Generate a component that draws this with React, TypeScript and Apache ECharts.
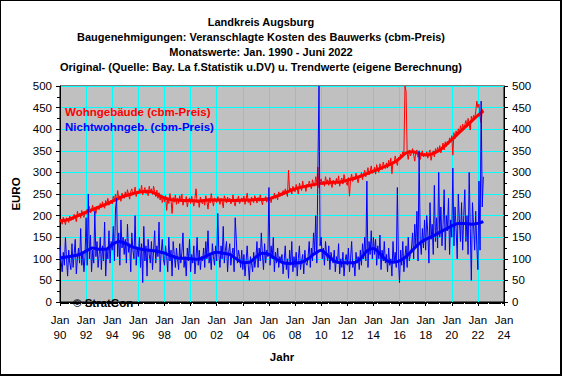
import React, { useEffect, useRef } from "react";
import * as echarts from "echarts";

const START_YEAR = 1990;
const X_MIN = 1990;
const X_MAX = 2024;

const titleLines = [
  "Landkreis Augsburg",
  "Baugenehmigungen: Veranschlagte Kosten des Bauwerks (cbm-Preis)",
  "Monatswerte: Jan. 1990 - Juni 2022",
  "Original- (Quelle: Bay. La f.Statistik u.DV) u. Trendwerte (eigene Berechnung)",
];

const seriesNames = ["Wohngebäude (cbm-Preis)", "Nichtwohngeb. (cbm-Preis)"];

// Monthly original values, Jan 1990 - Jun 2022
const wohnOriginal = [
  185,192,180,196,188,179,195,190,184,199,188,193,
  190,203,197,186,210,199,205,194,212,201,196,208,
  203,215,209,221,206,213,224,210,218,205,222,216,
  214,228,219,232,222,217,235,226,240,224,231,236,
  227,245,236,250,232,258,239,246,233,252,244,240,
  255,243,260,249,238,256,262,247,252,266,244,257,
  250,262,253,270,248,258,265,251,260,246,268,255,
  262,249,268,255,244,259,240,253,236,248,230,244,
  232,246,212,240,228,251,236,205,242,231,248,226,
  240,228,246,233,250,224,238,231,244,220,236,241,
  228,245,233,222,240,262,230,236,219,243,232,227,
  238,224,246,232,215,240,229,251,235,222,241,233,
  230,244,236,226,240,233,218,246,238,229,243,235,
  240,227,234,248,231,222,239,236,245,228,233,241,
  232,245,226,238,252,230,237,224,243,235,230,246,
  238,229,242,233,248,236,225,240,234,244,231,239,
  235,242,230,245,238,252,240,247,236,255,244,250,
  246,258,249,262,253,244,305,256,264,250,268,259,
  255,272,262,250,275,266,258,280,264,270,256,273,
  266,280,271,262,283,274,268,290,276,312,264,279,
  285,272,280,268,290,277,283,270,288,274,265,282,
  279,271,286,275,292,268,281,287,273,295,280,276,
  270,288,245,284,296,279,290,283,298,286,276,294,
  288,300,283,296,305,290,299,311,294,302,315,298,
  300,312,296,318,307,300,320,311,306,324,314,309,
  322,310,328,316,333,297,325,320,338,326,316,335,
  330,342,336,348,340,500,488,345,330,352,338,344,
  355,340,326,348,352,335,346,330,342,350,336,344,
  338,348,333,345,352,328,342,350,336,355,346,358,
  348,362,345,356,368,352,371,360,372,365,380,370,
  385,340,392,378,396,384,401,390,408,395,412,400,
  410,420,405,425,412,398,430,418,432,425,440,465,
  450,458,428,415,446,440,
];

const nichtwohnOriginal = [
  130,95,70,115,85,150,100,60,120,90,75,135,
  80,110,145,65,100,125,90,170,85,115,70,105,
  195,85,250,100,155,70,120,90,210,105,140,80,
  110,150,75,130,95,185,60,125,100,165,90,140,
  120,175,95,215,240,105,160,85,190,125,150,110,
  145,90,180,115,135,70,160,120,100,200,85,125,
  105,150,80,135,45,175,95,130,60,145,110,90,
  140,75,120,165,90,130,105,185,70,115,145,100,
  85,130,105,70,150,95,120,60,140,110,80,125,
  100,75,135,90,115,160,80,105,60,125,95,145,
  70,110,90,130,65,100,150,85,120,75,105,95,
  125,80,140,100,165,90,110,75,135,105,85,130,
  95,205,110,80,130,100,175,90,120,140,70,115,
  135,85,110,125,70,195,145,90,120,105,80,120,
  75,110,60,95,130,85,50,105,90,70,115,80,
  100,140,80,125,95,160,110,75,135,90,120,105,
  265,85,130,100,150,70,115,90,125,80,105,95,
  110,65,95,130,75,100,55,120,85,140,70,105,
  80,115,60,100,130,75,95,110,65,120,90,85,
  105,140,80,125,95,160,115,200,90,310,500,130,
  150,100,125,85,140,110,95,130,75,115,100,90,
  120,70,105,90,135,65,100,80,115,60,95,110,
  85,125,70,100,140,80,95,60,115,90,105,75,
  120,85,135,100,150,95,280,80,140,110,165,100,
  150,110,145,85,130,100,155,75,120,95,140,90,
  110,70,125,85,100,60,140,90,115,80,265,95,
  45,120,85,140,70,105,130,80,150,95,110,125,
  160,100,180,130,210,95,350,140,110,170,125,190,
  120,200,160,90,230,145,180,110,270,140,195,125,
  300,150,220,130,180,260,120,200,165,240,110,190,
  150,310,130,220,170,100,250,190,140,230,120,200,
  260,140,200,110,300,170,50,230,180,120,210,130,
  75,280,120,465,220,290,
];

// Trend values (half-yearly support points)
const trendYears = [
  1990, 1990.5, 1991, 1991.5, 1992, 1992.5, 1993, 1993.5, 1994, 1994.5,
  1995, 1995.5, 1996, 1996.5, 1997, 1997.5, 1998, 1998.5, 1999, 1999.5,
  2000, 2000.5, 2001, 2001.5, 2002, 2002.5, 2003, 2003.5, 2004, 2004.5,
  2005, 2005.5, 2006, 2006.5, 2007, 2007.5, 2008, 2008.5, 2009, 2009.5,
  2010, 2010.5, 2011, 2011.5, 2012, 2012.5, 2013, 2013.5, 2014, 2014.5,
  2015, 2015.5, 2016, 2016.5, 2017, 2017.5, 2018, 2018.5, 2019, 2019.5,
  2020, 2020.5, 2021, 2021.5, 2022, 2022.42,
];

const wohnTrend = [
  188,190,195,201,208,214,220,226,233,240,
  246,250,254,256,255,248,241,237,236,235,
  235,234,235,236,236,236,235,235,236,236,
  237,237,239,244,250,256,262,266,269,272,
  275,276,277,278,282,286,291,297,303,309,
  315,322,332,345,348,343,340,343,350,362,
  376,390,404,418,432,442,
];

const nichtwohnTrend = [
  102,104,107,110,118,125,122,122,133,140,
  136,128,124,121,119,117,113,107,102,101,
  100,99,103,111,115,113,110,100,91,92,
  104,113,110,100,92,89,90,92,100,112,
  120,108,95,91,91,91,100,118,124,112,
  96,92,95,105,120,135,145,152,160,168,
  176,182,182,180,182,186,
];

const RED = "#FF0000";
const BLUE = "#0000FF";
const FONT = "'Liberation Sans', Arial, sans-serif";

function monthly(values: number[]) {
  return values.map((v, i) => [START_YEAR + i / 12, v]);
}
function trend(values: number[]) {
  return values.map((v, i) => [trendYears[i], v]);
}

export default function App() {
  const ref = useRef<HTMLDivElement>(null);

  useEffect(() => {
    if (!ref.current) return;
    const chart = echarts.init(ref.current, null, { renderer: "svg" });

    const yAxisBase = {
      type: "value",
      min: 0,
      max: 500,
      interval: 50,
      axisLine: { show: true, lineStyle: { color: "#000", width: 1 } },
      axisTick: { show: true, length: 4, lineStyle: { color: "#000" } },
      minorTick: { show: true, splitNumber: 2, length: 3, lineStyle: { color: "#000" } },
      axisLabel: { color: "#000", fontSize: 11.5, fontFamily: FONT, margin: 8 },
    };

    const titleY = [22, 37, 52, 67];

    chart.setOption({
      animation: false,
      backgroundColor: "#FFFFFF",
      grid: {
        left: 60,
        right: 59,
        top: 86,
        bottom: 75,
        show: true,
        backgroundColor: "#C0C0C0",
        borderColor: "#000",
        borderWidth: 1,
      },
      xAxis: {
        type: "value",
        min: X_MIN,
        max: X_MAX,
        interval: 2,
        name: "Jahr",
        nameLocation: "middle",
        nameGap: 49,
        nameTextStyle: { color: "#000", fontWeight: "bold", fontSize: 11.5, fontFamily: FONT },
        axisLine: { show: true, lineStyle: { color: "#000", width: 1 } },
        axisTick: { show: true, length: 4, lineStyle: { color: "#000" } },
        minorTick: { show: true, splitNumber: 24, length: 2, lineStyle: { color: "#000" } },
        splitLine: { show: true, lineStyle: { color: "#00FFFF", width: 1 } },
        axisLabel: {
          color: "#000",
          fontSize: 11.5,
          fontFamily: FONT,
          lineHeight: 15,
          margin: 10,
          formatter: (v: number) => "Jan\n" + String(v).slice(2),
        },
      },
      yAxis: [
        {
          ...yAxisBase,
          position: "left",
          name: "EURO",
          nameLocation: "middle",
          nameGap: 33,
          nameTextStyle: { color: "#000", fontWeight: "bold", fontSize: 11.5, fontFamily: FONT },
          splitLine: { show: true, lineStyle: { color: "#00FFFF", width: 1 } },
        },
        {
          ...yAxisBase,
          position: "right",
          splitLine: { show: false },
        },
      ],
      series: [
        {
          name: seriesNames[0],
          type: "line",
          data: monthly(wohnOriginal),
          showSymbol: false,
          lineStyle: { color: RED, width: 1 },
          itemStyle: { color: RED },
          z: 2,
        },
        {
          name: seriesNames[0] + " Trend",
          type: "line",
          data: trend(wohnTrend),
          showSymbol: false,
          smooth: 0.3,
          lineStyle: { color: RED, width: 3 },
          itemStyle: { color: RED },
          z: 3,
        },
        {
          name: seriesNames[1],
          type: "line",
          data: monthly(nichtwohnOriginal),
          showSymbol: false,
          lineStyle: { color: BLUE, width: 1 },
          itemStyle: { color: BLUE },
          z: 4,
        },
        {
          name: seriesNames[1] + " Trend",
          type: "line",
          data: trend(nichtwohnTrend),
          showSymbol: false,
          smooth: 0.3,
          lineStyle: { color: BLUE, width: 3 },
          itemStyle: { color: BLUE },
          z: 5,
        },
      ],
      graphic: [
        ...titleLines.map((t, i) => ({
          type: "text",
          x: 261,
          y: titleY[i],
          z: 10,
          style: {
            text: t,
            fill: "#000",
            font: `bold 11px ${FONT}`,
            textAlign: "center",
            textVerticalAlign: "middle",
          },
        })),
        {
          type: "text",
          x: 65,
          y: 112,
          z: 10,
          style: { text: seriesNames[0], fill: RED, font: `bold 11.5px ${FONT}`, textVerticalAlign: "middle" },
        },
        {
          type: "text",
          x: 65,
          y: 127,
          z: 10,
          style: { text: seriesNames[1], fill: BLUE, font: `bold 11.5px ${FONT}`, textVerticalAlign: "middle" },
        },
        {
          type: "text",
          x: 73,
          y: 303,
          z: 20,
          style: { text: "© StratCon", fill: "#000", font: `bold 11.5px ${FONT}`, textVerticalAlign: "middle" },
        },
        { type: "line", z: 30, shape: { x1: 0, y1: 0.5, x2: 562, y2: 0.5 }, style: { stroke: "#000", lineWidth: 1 } },
        { type: "line", z: 30, shape: { x1: 0.5, y1: 0, x2: 0.5, y2: 376 }, style: { stroke: "#000", lineWidth: 1 } },
        { type: "line", z: 30, shape: { x1: 561, y1: 0, x2: 561, y2: 376 }, style: { stroke: "#000", lineWidth: 2 } },
        { type: "line", z: 30, shape: { x1: 0, y1: 375, x2: 562, y2: 375 }, style: { stroke: "#000", lineWidth: 2 } },
      ],
    });

    return () => chart.dispose();
  }, []);

  return (
    <div
      ref={ref}
      style={{ position: "absolute", left: 0, top: 0, width: 563, height: 377 }}
    />
  );
}
